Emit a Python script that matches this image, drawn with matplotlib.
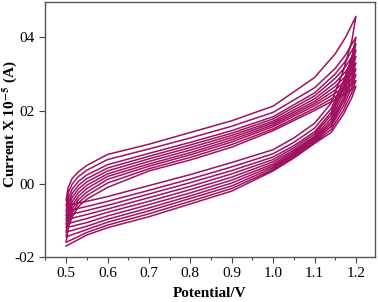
import matplotlib
matplotlib.use('Agg')
import matplotlib.pyplot as plt
from matplotlib.ticker import MultipleLocator

# potential grids (V) for the anodic (upper) and cathodic (lower) sweeps
e_up = [0.5, 0.505, 0.515, 0.53, 0.55, 0.6, 0.7, 0.8, 0.9, 1.0, 1.1, 1.15, 1.175, 1.2]
e_dn = [1.2, 1.19, 1.17, 1.14, 1.1, 1.05, 1.0, 0.9, 0.8, 0.7, 0.6, 0.55, 0.5]

# current (x 1e-5 A), one row per cycle
i_up = [
    [-0.044, -0.010, 0.015, 0.033, 0.050, 0.080, 0.108, 0.140, 0.172, 0.212, 0.290, 0.355, 0.400, 0.457],
    [-0.060, -0.025, 0.000, 0.020, 0.037, 0.066, 0.095, 0.125, 0.157, 0.195, 0.262, 0.315, 0.352, 0.400],
    [-0.075, -0.040, -0.014, 0.007, 0.024, 0.052, 0.083, 0.113, 0.145, 0.183, 0.248, 0.300, 0.335, 0.382],
    [-0.087, -0.052, -0.026, -0.004, 0.014, 0.043, 0.075, 0.106, 0.138, 0.177, 0.240, 0.288, 0.320, 0.365],
    [-0.098, -0.063, -0.037, -0.014, 0.005, 0.035, 0.068, 0.099, 0.132, 0.171, 0.232, 0.276, 0.306, 0.348],
    [-0.110, -0.074, -0.048, -0.024, -0.004, 0.027, 0.061, 0.092, 0.126, 0.166, 0.225, 0.266, 0.293, 0.330],
    [-0.120, -0.084, -0.058, -0.034, -0.013, 0.020, 0.054, 0.085, 0.120, 0.161, 0.219, 0.256, 0.281, 0.314],
    [-0.132, -0.095, -0.068, -0.043, -0.023, 0.012, 0.048, 0.079, 0.114, 0.156, 0.213, 0.247, 0.269, 0.298],
    [-0.145, -0.107, -0.079, -0.052, -0.032, 0.002, 0.041, 0.072, 0.107, 0.150, 0.206, 0.238, 0.258, 0.282],
    [-0.160, -0.120, -0.090, -0.062, -0.042, -0.010, 0.035, 0.065, 0.100, 0.145, 0.200, 0.230, 0.247, 0.266],
]
i_dn = [
    [0.457, 0.390, 0.310, 0.220, 0.165, 0.125, 0.093, 0.058, 0.025, -0.005, -0.035, -0.048, -0.060],
    [0.400, 0.345, 0.280, 0.205, 0.152, 0.113, 0.082, 0.046, 0.013, -0.018, -0.048, -0.062, -0.075],
    [0.382, 0.330, 0.268, 0.195, 0.142, 0.104, 0.073, 0.036, 0.003, -0.028, -0.059, -0.073, -0.087],
    [0.365, 0.318, 0.258, 0.187, 0.136, 0.098, 0.066, 0.027, -0.007, -0.038, -0.069, -0.084, -0.098],
    [0.348, 0.305, 0.246, 0.178, 0.130, 0.092, 0.060, 0.018, -0.016, -0.048, -0.078, -0.095, -0.110],
    [0.330, 0.290, 0.234, 0.170, 0.125, 0.087, 0.054, 0.010, -0.025, -0.057, -0.088, -0.106, -0.120],
    [0.314, 0.277, 0.224, 0.163, 0.121, 0.082, 0.049, 0.002, -0.033, -0.066, -0.097, -0.116, -0.132],
    [0.298, 0.263, 0.213, 0.156, 0.117, 0.078, 0.044, -0.006, -0.040, -0.074, -0.105, -0.125, -0.145],
    [0.282, 0.249, 0.201, 0.148, 0.113, 0.074, 0.039, -0.013, -0.048, -0.082, -0.113, -0.133, -0.160],
    [0.266, 0.235, 0.190, 0.140, 0.110, 0.070, 0.035, -0.020, -0.055, -0.090, -0.120, -0.140, -0.170],
]

y_ticks = [-0.2, 0.0, 0.2, 0.4]
y_labels = ['-02', '00', '02', '04']

plt.rcParams['font.family'] = ['Liberation Serif', 'DejaVu Serif']
plt.rcParams['mathtext.fontset'] = 'stix'

fig = plt.figure(figsize=(3.78, 3.02), dpi=100)
ax = fig.add_axes([0.119, 0.149, 0.873, 0.844])

col = '#a0115f'
xs, ys = [], []
for up, dn in zip(i_up, i_dn):
    xs += e_up + e_dn
    ys += up + dn
ax.plot(xs, ys, color=col, lw=1.1)

ax.set_xlim(0.449, 1.246)
ax.set_ylim(-0.2, 0.496)
ax.xaxis.set_major_locator(MultipleLocator(0.1))
ax.xaxis.set_minor_locator(MultipleLocator(0.05))
ax.set_yticks(y_ticks)
ax.set_yticklabels(y_labels)
ax.tick_params(which='major', direction='out', length=4, width=0.8, labelsize=11, colors='#444444', labelcolor='black')
ax.tick_params(which='minor', direction='out', length=2, width=0.8, colors='#444444')
for s in ax.spines.values():
    s.set_color('#555555')
    s.set_linewidth(1.0)

ax.set_xlabel('Potential/V', fontsize=11, fontweight='bold', labelpad=5)
ax.set_ylabel('Current X 10$^{\\mathbf{-5}}$ (A)', fontsize=11, fontweight='bold')
ax.yaxis.set_label_coords(-0.08, 0.52)

fig.savefig('out.png', dpi=100)
